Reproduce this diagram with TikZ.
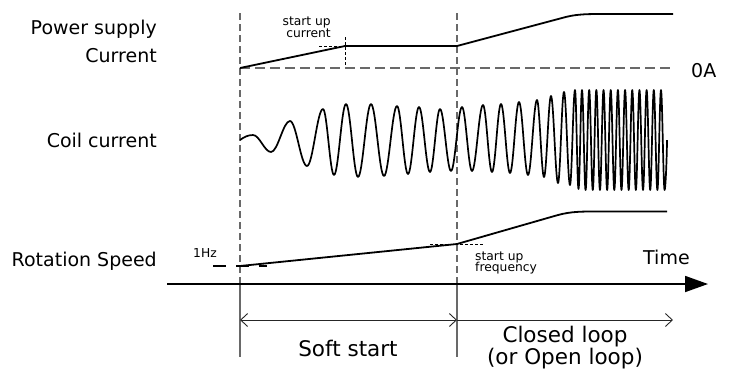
\documentclass[tikz,border=0pt]{standalone}
\usepackage{fontspec}
\setmainfont{DejaVu Sans}
\usetikzlibrary{arrows.meta}
\definecolor{gl}{RGB}{105,105,105}
\begin{document}
\begin{tikzpicture}[x=1pt,y=-1pt,
  curve/.style={line width=1.8pt, black, line join=round},
  vdash/.style={gl, line width=1.2pt, dash pattern=on 7pt off 4pt},
  vsolid/.style={gl, line width=1.2pt},
  zdash/.style={gl, line width=1.3pt, dash pattern=on 10pt off 5pt},
  fine/.style={black, line width=0.8pt, dash pattern=on 3pt off 2pt},
  lbl/.style={inner sep=0pt, font=\fontsize{19}{22}\selectfont},
  big/.style={inner sep=0pt, font=\fontsize{21.5}{24}\selectfont},
  small/.style={inner sep=0pt, font=\fontsize{12.3}{11}\selectfont},
  dim/.style={line width=0.9pt, black!85},
  barb/.tip={Straight Barb[length=7pt,width=13pt]}
]
\useasboundingbox (0,0) rectangle (734,376);

% phase boundaries
\coordinate (At) at (240,13); \coordinate (Aa) at (240,284); \coordinate (Ab) at (240,357);
\coordinate (Bt) at (457,13); \coordinate (Ba) at (457,284); \coordinate (Bb) at (457,357);
\draw[vdash] (At) -- (Aa);
\draw[vsolid] (Aa) -- (Ab);
\draw[vdash] (Bt) -- (Ba);
\draw[vsolid] (Ba) -- (Bb);

% time axis
\coordinate (T0) at (167,284); \coordinate (T1) at (708,284);
\draw[line width=1.8pt, -{Triangle[length=23pt,width=16pt]}] (T0) -- (T1);
\node[lbl, anchor=base west] (time) at (643,264) {Time};

% dimension arrows
\coordinate (D0) at (240,320); \coordinate (D1) at (457,320); \coordinate (D2) at (673,320);
\draw[dim, barb-barb] (D0) -- (D1);
\draw[dim, -barb] (D1) -- (D2);
\node[big, anchor=base] (soft) at (348,356) {Soft start};
\node[big, anchor=base] (closed) at (565,342) {Closed loop};
\node[big, anchor=base] (open) at (565,364) {(or Open loop)};

% power supply current
\coordinate (Z0) at (240,68); \coordinate (Z1) at (673,68);
\draw[zdash] (Z0) -- (Z1);
\node[lbl, anchor=base west] (zeroA) at (691,77) {0A};
\draw[fine] (319,46) -- (345,46);
\draw[fine] (345,37) -- (345,65);
\draw[curve] (Z0) -- (345,46) -- (457,46) -- (562,18) .. controls (574,14.5) and (584,14) .. (600,14) -- (673,14);
\node[small, anchor=base east] (su1) at (331,25) {start up};
\node[small, anchor=base east] (su2) at (331,37) {current};

% labels left
\node[lbl, anchor=base east] (ps1) at (157,34) {Power supply};
\node[lbl, anchor=base east] (ps2) at (157,62) {Current};
\node[lbl, anchor=base east] (coil) at (157,147) {Coil current};
\node[lbl, anchor=base east] (rot) at (157,266) {Rotation Speed};

% coil current wave
\draw[curve, line width=1.7pt] (240,140) .. controls (244,137) and (248,135) .. (253,135)
  foreach \x/\y/\c in {271/152/6.5, 290/121/6.9, 307/166/6.2, 323/109/5.8,
    334/175/4.0, 346/104/4.4, 358/177/4.4, 371/104/4.7, 384/176/4.7,
    397/106/4.7, 408/174/4.0, 419/107/4.0, 430/172/4.0, 440/109/3.6,
    451/171/4.0, 462/107/4.0, 472/171/3.6, 483/105/4.0, 492/172/3.3,
    501/104/3.3, 510/173/3.3, 519/102/3.3, 528/175/3.3, 537/100/3.3,
    544/177/2.5, 551/96/2.5, 558/183/2.5, 564/92/2.2, 570/185/2.2,
    575/90/1.8, 578.5/189/1.3, 582/90/1.3}
  { to[out=0,in=180,out distance=\c pt,in distance=\c pt] (\x,\y) }
  foreach \k in {0,...,10}
  { to[out=0,in=180,out distance=1.3pt,in distance=1.3pt] ({582+7.18*\k+3.59},190)
    to[out=0,in=180,out distance=1.3pt,in distance=1.3pt] ({582+7.18*\k+7.18},90) }
  to[out=0,in=180,out distance=1.3pt,in distance=1.3pt] (664.6,190)
  to[out=0,in=-90,out distance=1pt,in distance=12pt] (667,140);

% rotation speed
\draw[black, line width=1.5pt, dash pattern=on 13pt off 10pt] (213,266) -- (267,266);
\node[small, anchor=base west] (hz) at (193,257) {1Hz};
\draw[fine] (430,244) -- (483,244);
\draw[curve] (240,266) -- (457,244) -- (558,215) .. controls (571,211.5) and (582,211.5) .. (595,211.5) -- (667,211.5);
\node[small, anchor=base west] (sf1) at (475,260) {start up};
\node[small, anchor=base west] (sf2) at (475,271) {frequency};
\end{tikzpicture}
\end{document}
